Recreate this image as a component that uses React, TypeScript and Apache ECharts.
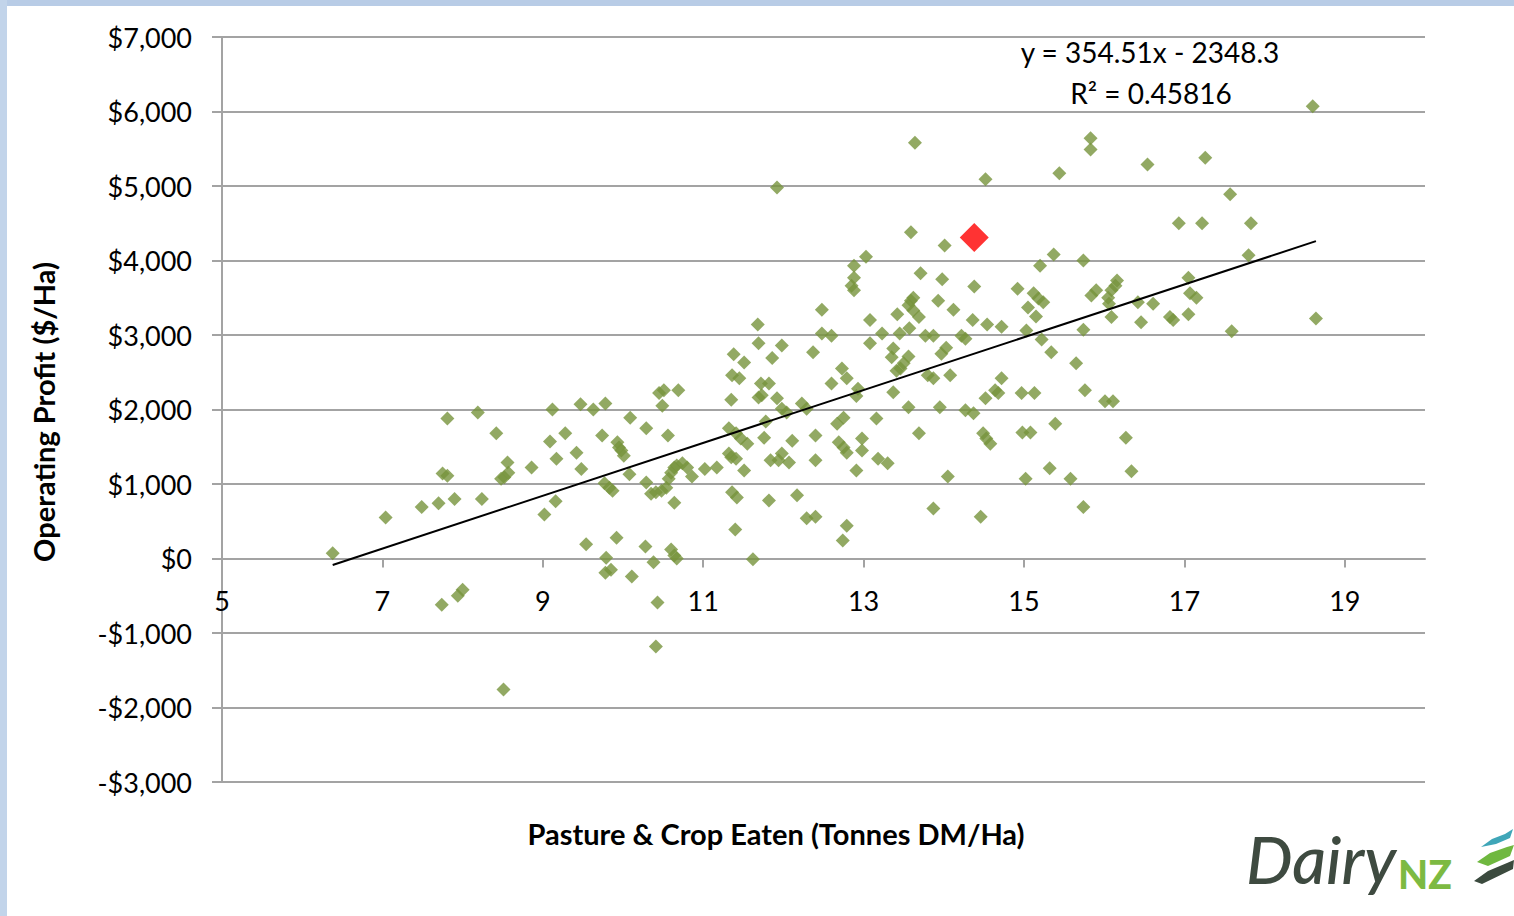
import React, { useEffect, useRef } from "react";
import * as echarts from "echarts";

// Pasture & Crop Eaten (Tonnes DM/Ha)
const pastureEaten = [
  6.38, 7.04, 7.49, 7.7, 7.74, 7.75, 7.81, 7.81, 7.9, 7.94, 8.0, 8.19, 8.24, 8.42, 8.51, 8.48, 8.52, 8.56, 8.57, 8.86,
  9.02, 9.16, 9.17, 9.09, 9.12, 9.28, 9.42, 9.48, 9.47, 9.63, 9.78, 9.74, 9.77, 9.83, 9.87, 9.54, 9.79, 9.78, 9.85, 9.92,
  10.09, 10.29, 9.93, 9.95, 9.98, 10.01, 10.08, 10.11, 10.28, 10.38, 10.29, 10.35, 10.41, 10.48, 10.54, 10.57, 10.6, 10.64, 10.67, 10.74,
  10.8, 10.86, 10.56, 10.64, 10.43, 10.41, 10.6, 10.64, 10.67, 10.45, 10.51, 10.49, 10.69, 11.02, 11.17, 11.35, 11.32, 11.41, 11.47, 11.55,
  11.32, 11.35, 11.41, 11.51, 11.36, 11.42, 11.4, 11.62, 11.69, 11.73, 11.92, 11.98, 12.04, 12.23, 12.29, 11.78, 11.76, 11.84, 11.94, 11.98,
  12.07, 12.11, 12.4, 12.4, 12.67, 12.75, 12.69, 12.75, 12.79, 12.91, 12.91, 11.82, 12.17, 12.29, 12.4, 12.79, 12.74, 11.92, 12.88, 12.85,
  12.88, 12.48, 11.68, 12.48, 12.6, 11.69, 11.98, 12.37, 11.38, 11.51, 11.36, 11.45, 11.86, 12.73, 12.79, 12.6, 11.72, 11.82, 13.64, 14.52,
  15.44, 15.83, 15.83, 13.59, 14.01, 13.03, 12.88, 13.71, 13.98, 14.38, 15.37, 15.74, 15.2, 14.92, 15.12, 15.18, 15.24, 15.05, 15.15, 15.84,
  15.9, 13.62, 13.59, 13.56, 13.62, 13.69, 13.93, 13.42, 14.12, 13.08, 14.36, 14.54, 14.72, 13.57, 13.45, 13.23, 13.77, 13.87, 14.22, 14.27,
  15.03, 15.22, 15.74, 13.08, 13.37, 13.35, 13.56, 14.03, 13.97, 15.34, 15.65, 13.5, 13.46, 13.41, 13.8, 13.87, 14.08, 14.72, 14.64, 14.68,
  13.37, 12.93, 14.97, 15.13, 15.76, 14.52, 13.56, 13.95, 14.27, 14.37, 13.16, 12.98, 12.98, 13.69, 13.18, 13.3, 14.49, 14.53, 14.58, 14.98,
  15.08, 15.39, 15.32, 15.02, 15.58, 14.05, 13.87, 14.46, 15.74, 18.6, 16.54, 17.26, 17.57, 16.93, 17.22, 17.83, 17.8, 16.16, 16.14, 16.09,
  16.05, 16.06, 17.05, 17.07, 17.15, 16.42, 16.61, 16.09, 16.46, 16.82, 16.86, 17.05, 17.59, 18.64, 16.01, 16.11, 16.27, 16.34,
];

// Operating Profit ($/Ha)
const operatingProfit = [
  70, 550, 690, 740, -620, 1140, 1110, 1880, 800, -500, -420, 1960, 800, 1680, -1760, 1070, 1090, 1290, 1150, 1220,
  590, 770, 1340, 1570, 2000, 1680, 1420, 1200, 2070, 2000, 2080, 1650, 1010, 950, 910, 190, 10, -190, -150, 280,
  1890, 1750, 1560, 1490, 1450, 1380, 1130, -240, 160, -50, 1020, 870, 890, 910, 950, 1070, 1150, 1220, 1250, 1280,
  1220, 1100, 1650, 750, -590, -1180, 120, 40, 0, 2220, 2260, 2050, 2260, 1200, 1220, 2130, 1750, 1680, 1610, 1540,
  1410, 1360, 1340, 1180, 890, 820, 390, -10, 2160, 2190, 2150, 2010, 1960, 2080, 2010, 1840, 1620, 1320, 1320, 1410,
  1290, 1580, 1650, 1320, 1810, 1890, 1560, 1490, 1420, 1180, 2180, 780, 850, 540, 560, 440, 240, 4980, 3930, 3660,
  3600, 3340, 3140, 3020, 2990, 2890, 2860, 2770, 2740, 2630, 2460, 2420, 2690, 2550, 2420, 2350, 2350, 2350, 5580, 5090,
  5170, 5640, 5490, 4380, 4200, 4050, 3770, 3830, 3750, 3650, 4080, 4000, 3930, 3620, 3560, 3490, 3440, 3370, 3250, 3530,
  3600, 3500, 3460, 3400, 3330, 3240, 3460, 3280, 3340, 3200, 3200, 3140, 3110, 3090, 3020, 3020, 2990, 2990, 2990, 2950,
  3060, 2940, 3070, 2890, 2820, 2700, 2710, 2830, 2750, 2770, 2620, 2620, 2550, 2520, 2460, 2420, 2460, 2420, 2260, 2220,
  2230, 2280, 2220, 2220, 2260, 2150, 2030, 2030, 1990, 1950, 1880, 1610, 1450, 1680, 1340, 1280, 1680, 1610, 1540, 1690,
  1690, 1810, 1210, 1070, 1070, 1100, 670, 560, 690, 6070, 5290, 5380, 4890, 4500, 4500, 4500, 4070, 3730, 3660, 3600,
  3500, 3420, 3770, 3560, 3500, 3440, 3420, 3240, 3170, 3240, 3200, 3280, 3050, 3220, 2110, 2110, 1620, 1170,
];

const highlightFarm = [14.38, 4310];

const trendSlope = 354.51;
const trendIntercept = -2348.3;
const trendXRange = [6.38, 18.64];
const trendLabel = "y = 354.51x - 2348.3";
const r2Label = "R\u00B2 = 0.45816";

const xTitle = "Pasture & Crop Eaten (Tonnes DM/Ha)";
const yTitle = "Operating Profit ($/Ha)";

const FONT = "Lato, 'Open Sans', sans-serif";

export default function App() {
  const ref = useRef<HTMLDivElement>(null);

  useEffect(() => {
    if (!ref.current) return;
    const chart = echarts.init(ref.current, null, { renderer: "svg" });

    const points = pastureEaten.map((x, i) => [x, operatingProfit[i]]);
    const trend = trendXRange.map((x) => [x, trendSlope * x + trendIntercept]);

    const gray = "#A3A3A3";

    chart.setOption({
      animation: false,
      backgroundColor: "#ffffff",
      grid: { left: 222, right: 89, top: 37, bottom: 134 },
      xAxis: {
        type: "value",
        min: 5,
        max: 20,
        interval: 2,
        offset: -223.5,
        axisLine: { show: true, onZero: false, lineStyle: { color: gray, width: 2 } },
        axisTick: { show: true, length: 9, lineStyle: { color: gray, width: 2 } },
        axisLabel: {
          fontSize: 27,
          color: "#000",
          margin: 28,
          fontFamily: FONT,
          showMaxLabel: false,
        },
        splitLine: { show: false },
      },
      yAxis: {
        type: "value",
        min: -3000,
        max: 7000,
        interval: 1000,
        axisLine: { show: true, lineStyle: { color: gray, width: 2 } },
        axisTick: { show: true, length: 10, lineStyle: { color: gray, width: 2 } },
        axisLabel: {
          fontSize: 27,
          color: "#000",
          margin: 30,
          fontFamily: FONT,
          formatter: (v: number) =>
            (v < 0 ? "-" : "") + "$" + Math.abs(v).toLocaleString("en-US"),
        },
        splitLine: { show: true, lineStyle: { color: gray, width: 2 } },
      },
      series: [
        {
          type: "scatter",
          data: points,
          symbol: "diamond",
          symbolSize: 14,
          itemStyle: { color: "#77933C" },
          z: 2,
        },
        {
          type: "line",
          data: trend,
          symbol: "none",
          lineStyle: { color: "#000", width: 2 },
          z: 3,
        },
        {
          type: "scatter",
          data: [highlightFarm],
          symbol: "diamond",
          symbolSize: 29,
          itemStyle: { color: "#FF0000" },
          z: 4,
        },
      ],
      graphic: [
        { type: "rect", shape: { x: 0, y: 0, width: 1514, height: 6 }, style: { fill: "#B8CCE6" }, silent: true },
        { type: "rect", shape: { x: 0, y: 0, width: 7, height: 916 }, style: { fill: "#C2D4EA" }, silent: true },
        {
          type: "text",
          x: 1150,
          y: 52,
          style: { text: trendLabel, fontSize: 28, fontFamily: FONT, fill: "#000", textAlign: "center", textVerticalAlign: "middle" },
        },
        {
          type: "text",
          x: 1151,
          y: 93,
          style: { text: r2Label, fontSize: 28, fontFamily: FONT, fill: "#000", textAlign: "center", textVerticalAlign: "middle" },
        },
        {
          type: "text",
          x: 776,
          y: 833,
          style: { text: xTitle, fontSize: 29, fontWeight: "bold", fontFamily: FONT, fill: "#000", textAlign: "center", textVerticalAlign: "middle" },
        },
        {
          type: "text",
          x: 43,
          y: 412,
          rotation: Math.PI / 2,
          style: { text: yTitle, fontSize: 29, fontWeight: "bold", fontFamily: FONT, fill: "#000", textAlign: "center", textVerticalAlign: "middle" },
        },
        {
          type: "text",
          x: 1246,
          y: 891,
          style: { text: "Dairy", fontSize: 66, fontStyle: "italic", fontWeight: 500, fontFamily: FONT, fill: "#3E4A40", textAlign: "left", textVerticalAlign: "bottom" },
        },
        {
          type: "text",
          x: 1398,
          y: 893,
          style: { text: "NZ", fontSize: 39, fontWeight: 900, fontFamily: FONT, fill: "#7DBA42", textAlign: "left", textVerticalAlign: "bottom" },
        },
        {
          type: "polygon",
          shape: { points: [[1481, 847], [1492, 839], [1505, 834], [1513, 829], [1510, 838], [1496, 844]] },
          style: { fill: "#3FA6B8" },
        },
        {
          type: "polygon",
          shape: { points: [[1477, 862], [1490, 853], [1507, 847], [1514, 845], [1510, 856], [1488, 866]] },
          style: { fill: "#6FB83F" },
        },
        {
          type: "polygon",
          shape: { points: [[1474, 881], [1488, 871], [1507, 863], [1514, 860], [1513, 869], [1482, 884]] },
          style: { fill: "#3B4A3E" },
        },
      ],
    });

    return () => chart.dispose();
  }, []);

  return (
    <div
      ref={ref}
      style={{ position: "fixed", left: 0, top: 0, width: 1514, height: 916 }}
    />
  );
}
